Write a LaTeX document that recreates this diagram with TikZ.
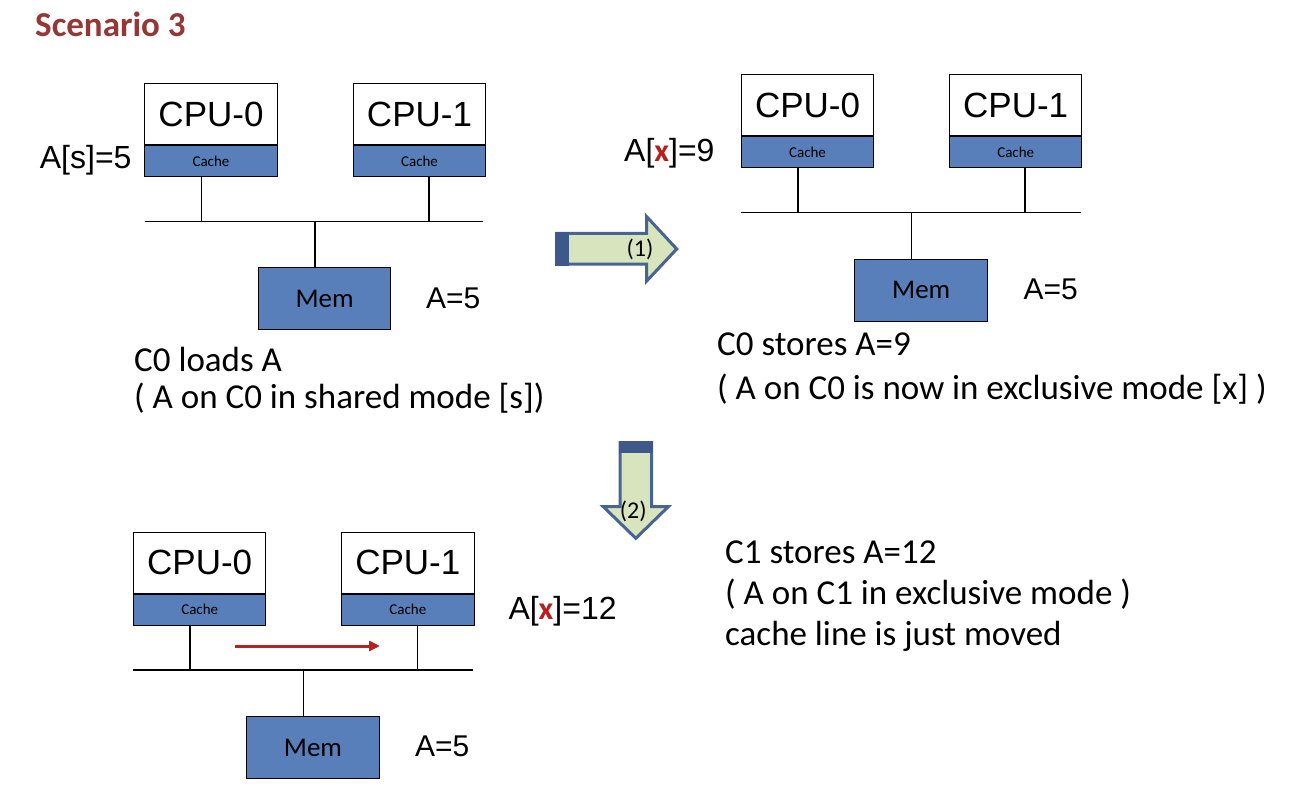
\documentclass[tikz,border=0pt]{standalone}
\usepackage{fontspec}
\setmainfont{Liberation Sans}
\newfontfamily\calfont{Carlito}
\usetikzlibrary{arrows.meta}
\definecolor{cblue}{RGB}{88,127,186}
\definecolor{titlered}{RGB}{149,55,53}
\definecolor{xred}{RGB}{185,30,30}
\definecolor{arrfill}{RGB}{215,228,189}
\definecolor{arredge}{RGB}{72,100,148}
\definecolor{arrdark}{RGB}{62,88,138}
\definecolor{movered}{RGB}{180,35,30}
\begin{document}
\begin{tikzpicture}[x=1pt,y=-1pt,
  cpu/.style={draw=black,line width=1pt,fill=white,minimum width=132.5pt,minimum height=61.5pt,inner sep=0pt,font=\fontsize{35}{40}\selectfont},
  cachebox/.style={draw=black,line width=1pt,fill=cblue,minimum width=132.5pt,minimum height=30.5pt,inner sep=0pt,font=\calfont\fontsize{15}{18}\selectfont},
  membox/.style={draw=black,line width=1pt,fill=cblue,minimum width=132.5pt,minimum height=62pt,inner sep=0pt,font=\calfont\fontsize{27}{30}\selectfont},
  wire/.style={line width=1.2pt,black},
  val/.style={font=\fontsize{32}{36}\selectfont,inner sep=0pt},
  memval/.style={font=\fontsize{30}{34}\selectfont,inner sep=0pt,anchor=base west},
  note/.style={font=\calfont\fontsize{35}{40}\selectfont,inner sep=0pt,anchor=base west},
  blockarrow/.style={fill=arrfill,draw=arredge,line width=3pt,line join=miter},
  steplabel/.style={font=\calfont\fontsize{24}{28}\selectfont,inner sep=0pt},
  movearrow/.style={draw=movered,line width=3pt,-{Triangle[length=11pt,width=10pt]}},
]
\useasboundingbox (0,0) rectangle (1314,800);

% title
\node[anchor=base west,inner sep=0pt,font=\calfont\bfseries\fontsize{35}{40}\selectfont,text=titlered] (title) at (35,36.7) {Scenario 3};

% ---------- top-left system ----------
\node[cpu] (tlp0) at (211,114.2) {CPU-0};
\node[cachebox,anchor=north] (tlc0) at (tlp0.south) {Cache};
\node[cpu] (tlp1) at (419.5,114.2) {CPU-1};
\node[cachebox,anchor=north] (tlc1) at (tlp1.south) {Cache};
\node[membox] (tlm) at (324.7,298.9) {Mem};
\coordinate (tlbl) at (145,221.7);
\coordinate (tlbr) at (483,221.7);
\coordinate (tld0) at (201.7,221.7);
\coordinate (tld1) at (429,221.7);
\coordinate (tldm) at (315,221.7);
\draw[wire] (tlbl) -- (tlbr);
\draw[wire] (tld0 |- tlc0.south) -- (tld0);
\draw[wire] (tld1 |- tlc1.south) -- (tld1);
\draw[wire] (tldm) -- (tldm |- tlm.north);
\node[val,anchor=base east] (tlval) at (131.7,168) {A[s]=5};
\node[memval] (tlmv) at (426,308.3) {A=5};
\node[note] (tln1) at (134,371.7) {C0 loads A};
\node[note] (tln2) at (134,408.5) {( A on C0 in shared mode [s])};

% ---------- top-right system ----------
\node[cpu] (trp0) at (807.5,105.2) {CPU-0};
\node[cachebox,anchor=north] (trc0) at (trp0.south) {Cache};
\node[cpu] (trp1) at (1015.7,105.2) {CPU-1};
\node[cachebox,anchor=north] (trc1) at (trp1.south) {Cache};
\node[membox] (trm) at (921.2,290) {Mem};
\coordinate (trbl) at (741,212.7);
\coordinate (trbr) at (1080.7,212.7);
\coordinate (trd0) at (798,212.7);
\coordinate (trd1) at (1025,212.7);
\coordinate (trdm) at (911.7,212.7);
\draw[wire] (trbl) -- (trbr);
\draw[wire] (trd0 |- trc0.south) -- (trd0);
\draw[wire] (trd1 |- trc1.south) -- (trd1);
\draw[wire] (trdm) -- (trdm |- trm.north);
\node[val,anchor=base west] (trval) at (624,161.7) {A[{\calfont\bfseries\color{xred}x}]=9};
\node[memval] (trmv) at (1023.3,299.3) {A=5};
\node[note] (trn1) at (717,355) {C0 stores A=9};
\node[note] (trn2) at (717,399.3) {( A on C0 is now in exclusive mode [x] )};

% ---------- bottom system ----------
\node[cpu] (blp0) at (199.7,562.8) {CPU-0};
\node[cachebox,anchor=north] (blc0) at (blp0.south) {Cache};
\node[cpu] (blp1) at (407.8,562.8) {CPU-1};
\node[cachebox,anchor=north] (blc1) at (blp1.south) {Cache};
\node[membox] (blm) at (313,747.5) {Mem};
\coordinate (blbl) at (133.3,670);
\coordinate (blbr) at (472.7,670);
\coordinate (bld0) at (190,670);
\coordinate (bld1) at (417.3,670);
\coordinate (bldm) at (303.7,670);
\draw[wire] (blbl) -- (blbr);
\draw[wire] (bld0 |- blc0.south) -- (bld0);
\draw[wire] (bld1 |- blc1.south) -- (bld1);
\draw[wire] (bldm) -- (bldm |- blm.north);
\coordinate (mvs) at (235,646);
\coordinate (mve) at (380,646);
\draw[movearrow] (mvs) -- (mve);
\node[val,anchor=base west] (blval) at (508.3,619) {A[{\calfont\bfseries\color{xred}x}]=12};
\node[memval] (blmv) at (415,756.7) {A=5};
\node[note] (brn1) at (725,563.3) {C1 stores A=12};
\node[note] (brn2) at (725,604) {( A on C1 in exclusive mode )};
\node[note] (brn3) at (725,645) {cache line is just moved};

% ---------- step arrows ----------
\draw[blockarrow] (556.7,233.3) -- (646.7,233.3) -- (646.7,216.7) -- (676.7,249) -- (646.7,281) -- (646.7,264) -- (556.7,264) -- cycle;
\fill[arrdark] (555.2,231.8) rectangle (569,265.5);
\node[steplabel] (s1) at (640,249) {(1)};

\draw[blockarrow] (620,442.7) -- (651.7,442.7) -- (651.7,506.7) -- (668.3,506.7) -- (635.8,538.3) -- (603.3,506.7) -- (620,506.7) -- cycle;
\fill[arrdark] (618.5,441.2) rectangle (653.2,453.3);
\node[steplabel] (s2) at (633.3,511.7) {(2)};
\end{tikzpicture}
\end{document}
